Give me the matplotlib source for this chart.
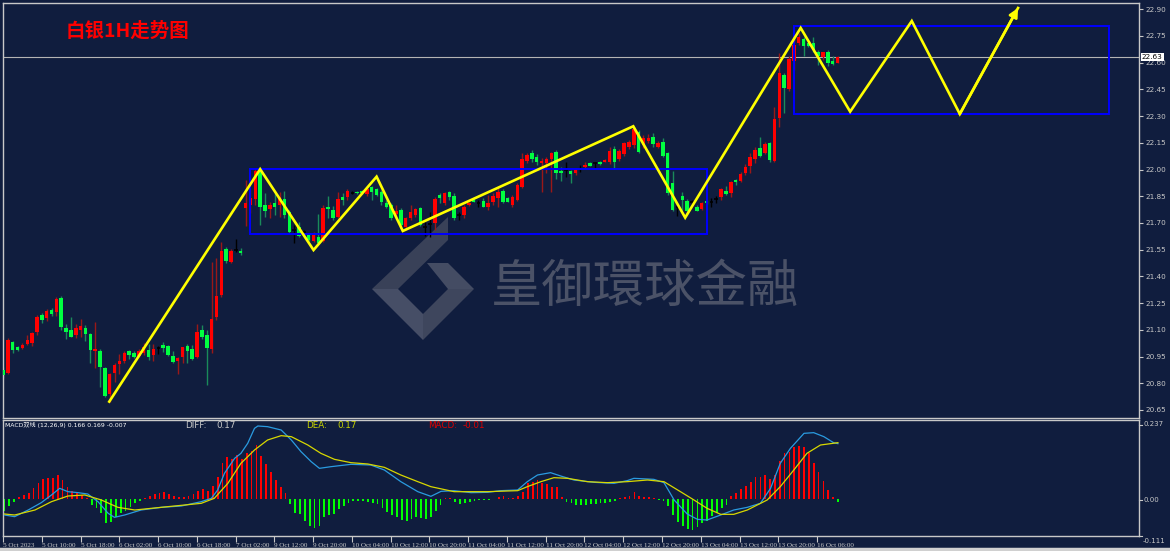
import matplotlib
matplotlib.use('Agg')
import matplotlib.pyplot as plt
from matplotlib.patches import Rectangle, Polygon
from matplotlib.transforms import blended_transform_factory

W, H = 1170, 551
BG = '#101d3e'
FG = '#c8c8c8'

opens = [
    20.875, 20.860, 21.032, 21.004, 20.998, 21.021, 21.028, 21.088, 21.183, 21.168,
    21.212, 21.202, 21.281, 21.110, 21.099, 21.071, 21.099, 21.110, 21.077, 20.981,
    20.983, 20.884, 20.740, 20.860, 20.908, 20.925, 20.981, 20.972, 20.953, 20.970,
    20.987, 20.959, 20.997, 21.015, 21.011, 20.953, 20.927, 20.946, 21.011, 20.993,
    20.949, 21.099, 21.071, 20.991, 21.172, 21.296, 21.554, 21.479, 21.551, 21.543,
    21.783, 21.801, 21.833, 22.002, 21.801, 21.777, 21.814, 21.801, 21.833, 21.763,
    21.662, 21.676, 21.650, 21.633, 21.601, 21.620, 21.601, 21.792, 21.773, 21.735,
    21.848, 21.844, 21.870, 21.873, 21.881, 21.861, 21.900, 21.889, 21.876, 21.814,
    21.801, 21.749, 21.773, 21.676, 21.730, 21.745, 21.783, 21.676, 21.695, 21.702,
    21.857, 21.811, 21.874, 21.853, 21.744, 21.745, 21.801, 21.829, 21.810, 21.825,
    21.792, 21.820, 21.839, 21.880, 21.839, 21.801, 21.829, 21.900, 22.050, 22.095,
    22.072, 22.039, 22.035, 22.058, 22.101, 21.992, 21.998, 21.992, 21.979, 22.002,
    22.013, 22.035, 22.037, 22.044, 22.044, 22.044, 22.114, 22.058, 22.087, 22.129,
    22.138, 22.213, 22.138, 22.162, 22.181, 22.125, 22.157, 22.095, 21.923, 21.788,
    21.853, 21.825, 21.820, 21.792, 21.777, 21.825, 21.820, 21.833, 21.844, 21.880,
    21.870, 21.942, 21.938, 21.979, 22.022, 22.059, 22.123, 22.091, 22.151, 22.050,
    22.291, 22.531, 22.451, 22.611, 22.709, 22.732, 22.712, 22.709, 22.662, 22.630,
    22.662, 22.611, 22.600]
closes = [
    20.847, 21.043, 20.987, 20.987, 21.015, 21.043, 21.082, 21.174, 21.155, 21.206,
    21.189, 21.272, 21.118, 21.088, 21.062, 21.110, 21.122, 21.077, 20.987, 20.994,
    20.893, 20.730, 20.852, 20.903, 20.925, 20.972, 20.959, 20.949, 20.983, 21.006,
    20.946, 20.994, 20.997, 20.998, 20.959, 20.921, 20.944, 21.002, 20.981, 20.937,
    21.090, 21.058, 21.000, 21.161, 21.292, 21.545, 21.488, 21.543, 21.551, 21.530,
    21.814, 21.842, 21.992, 21.788, 21.767, 21.801, 21.792, 21.848, 21.745, 21.651,
    21.662, 21.627, 21.650, 21.605, 21.633, 21.590, 21.783, 21.777, 21.730, 21.833,
    21.829, 21.881, 21.870, 21.870, 21.867, 21.889, 21.876, 21.857, 21.820, 21.788,
    21.726, 21.767, 21.689, 21.726, 21.763, 21.777, 21.689, 21.676, 21.695, 21.833,
    21.839, 21.867, 21.844, 21.726, 21.744, 21.792, 21.814, 21.820, 21.810, 21.792,
    21.814, 21.853, 21.876, 21.820, 21.820, 21.844, 21.913, 22.058, 22.082, 22.059,
    22.044, 22.050, 22.058, 22.095, 21.979, 21.979, 21.998, 21.974, 21.998, 22.002,
    22.026, 22.022, 22.037, 22.031, 22.054, 22.106, 22.044, 22.106, 22.148, 22.157,
    22.226, 22.101, 22.176, 22.176, 22.144, 22.148, 22.076, 21.870, 21.773, 21.788,
    21.830, 21.769, 21.820, 21.770, 21.814, 21.811, 21.820, 21.833, 21.889, 21.863,
    21.929, 21.929, 21.974, 22.016, 22.072, 22.110, 22.076, 22.144, 22.054, 22.282,
    22.541, 22.456, 22.619, 22.700, 22.743, 22.694, 22.694, 22.671, 22.638, 22.658,
    22.600, 22.591, 22.630]
highs = [
    20.893, 21.054, 21.037, 21.010, 21.026, 21.071, 21.088, 21.183, 21.193, 21.215,
    21.221, 21.286, 21.292, 21.133, 21.174, 21.133, 21.159, 21.126, 21.084, 21.144,
    20.994, 20.893, 20.858, 20.914, 20.964, 20.983, 20.987, 20.981, 20.994, 21.026,
    21.019, 21.021, 21.009, 21.032, 21.015, 20.983, 20.949, 21.006, 21.019, 21.015,
    21.133, 21.127, 21.099, 21.483, 21.502, 21.593, 21.567, 21.552, 21.609, 21.558,
    21.942, 21.889, 22.002, 22.007, 21.870, 21.820, 21.867, 21.876, 21.880, 21.773,
    21.689, 21.706, 21.661, 21.646, 21.651, 21.751, 21.801, 21.852, 21.796, 21.876,
    21.870, 21.889, 21.880, 21.877, 21.887, 21.900, 21.908, 21.895, 21.885, 21.829,
    21.811, 21.801, 21.783, 21.735, 21.801, 21.783, 21.790, 21.707, 21.763, 21.848,
    21.867, 21.876, 21.881, 21.867, 21.763, 21.801, 21.820, 21.835, 21.829, 21.839,
    21.857, 21.867, 21.895, 21.889, 21.845, 21.857, 21.923, 22.091, 22.095, 22.110,
    22.087, 22.063, 22.072, 22.101, 22.110, 22.015, 22.043, 21.998, 22.007, 22.026,
    22.044, 22.040, 22.043, 22.050, 22.060, 22.129, 22.132, 22.114, 22.157, 22.166,
    22.237, 22.222, 22.194, 22.200, 22.204, 22.160, 22.176, 22.101, 21.992, 21.800,
    21.876, 21.833, 21.829, 21.800, 21.820, 21.830, 21.839, 21.852, 21.895, 21.908,
    21.938, 21.945, 21.988, 22.030, 22.091, 22.129, 22.181, 22.157, 22.157, 22.350,
    22.653, 22.541, 22.638, 22.737, 22.765, 22.743, 22.718, 22.743, 22.671, 22.662,
    22.671, 22.638, 22.638]
lows = [
    20.828, 20.852, 20.970, 20.980, 20.993, 21.015, 21.009, 21.073, 21.140, 21.151,
    21.178, 21.178, 21.099, 21.050, 21.058, 21.053, 21.062, 21.039, 20.914, 20.886,
    20.777, 20.725, 20.697, 20.809, 20.852, 20.912, 20.935, 20.942, 20.946, 20.959,
    20.931, 20.927, 20.964, 20.977, 20.953, 20.912, 20.852, 20.912, 20.912, 20.931,
    20.940, 21.047, 20.790, 20.968, 21.155, 21.286, 21.474, 21.474, 21.539, 21.520,
    21.683, 21.754, 21.801, 21.689, 21.735, 21.730, 21.745, 21.732, 21.726, 21.646,
    21.589, 21.620, 21.638, 21.599, 21.595, 21.582, 21.595, 21.728, 21.717, 21.726,
    21.801, 21.829, 21.862, 21.865, 21.860, 21.853, 21.829, 21.850, 21.801, 21.783,
    21.717, 21.735, 21.683, 21.661, 21.717, 21.735, 21.685, 21.627, 21.620, 21.661,
    21.811, 21.801, 21.829, 21.717, 21.717, 21.726, 21.795, 21.815, 21.788, 21.788,
    21.773, 21.801, 21.792, 21.811, 21.815, 21.792, 21.825, 21.895, 22.035, 22.044,
    22.026, 21.876, 21.979, 21.876, 21.945, 21.937, 21.960, 21.923, 21.970, 21.988,
    22.007, 22.018, 22.002, 22.026, 22.040, 22.031, 22.002, 22.050, 22.076, 22.114,
    22.119, 22.091, 22.119, 22.148, 22.129, 22.120, 22.072, 21.857, 21.769, 21.739,
    21.773, 21.763, 21.792, 21.765, 21.773, 21.805, 21.792, 21.814, 21.829, 21.857,
    21.844, 21.913, 21.929, 21.970, 21.979, 22.035, 22.069, 22.087, 22.044, 22.044,
    22.237, 22.319, 22.443, 22.559, 22.700, 22.638, 22.690, 22.662, 22.587, 22.615,
    22.582, 22.587, 22.597]

macd_hist = [
    -0.035, -0.020, -0.008, 0.005, 0.012, 0.019, 0.032, 0.047, 0.059, 0.064,
    0.064, 0.072, 0.057, 0.037, 0.025, 0.017, 0.012, 0.004, -0.018, -0.028,
    -0.043, -0.071, -0.068, -0.053, -0.043, -0.035, -0.025, -0.011, -0.005, 0.004,
    0.009, 0.015, 0.019, 0.022, 0.015, 0.009, 0.005, 0.007, 0.009, 0.015,
    0.025, 0.029, 0.025, 0.039, 0.065, 0.109, 0.125, 0.119, 0.132, 0.119,
    0.139, 0.145, 0.162, 0.129, 0.105, 0.082, 0.057, 0.037, 0.019, -0.015,
    -0.041, -0.045, -0.065, -0.081, -0.088, -0.081, -0.053, -0.048, -0.045, -0.031,
    -0.021, -0.011, -0.005, -0.005, -0.006, -0.008, -0.011, -0.015, -0.028, -0.038,
    -0.048, -0.053, -0.063, -0.065, -0.061, -0.053, -0.058, -0.061, -0.055, -0.035,
    -0.018, 0.002, 0.002, -0.008, -0.015, -0.013, -0.008, -0.005, -0.004, -0.003,
    -0.004, 0.001, 0.007, 0.009, 0.004, 0.002, 0.009, 0.022, 0.047, 0.052,
    0.057, 0.047, 0.045, 0.037, 0.035, 0.005, -0.008, -0.013, -0.018, -0.018,
    -0.018, -0.015, -0.015, -0.013, -0.011, -0.008, -0.005, 0.002, 0.005, 0.009,
    0.022, 0.009, 0.007, 0.005, 0.002, -0.003, -0.005, -0.021, -0.048, -0.068,
    -0.081, -0.091, -0.093, -0.085, -0.073, -0.065, -0.051, -0.041, -0.028, -0.018,
    0.009, 0.019, 0.029, 0.039, 0.052, 0.065, 0.065, 0.072, 0.059, 0.072,
    0.115, 0.137, 0.142, 0.157, 0.159, 0.157, 0.137, 0.107, 0.082, 0.054,
    0.027, 0.005, -0.008]

diff_x = [0, 2.1, 4.9, 7.6, 9.7, 11.4, 13.1, 15.2, 17.2, 19.3, 21.4, 22.7, 24.8,
          28.2, 32.4, 36.5, 40.6, 42.7, 44.0, 45.4, 47.5, 48.8, 50.2, 51.6, 52.3,
          54.3, 57.1, 59.2, 61.2, 63.3, 65.0, 67.4, 71.5, 75.6, 78.4, 81.8, 85.3,
          88.0, 90.1, 92.8, 96.3, 99.7, 102.4, 105.9, 107.9, 110.0, 112.7, 114.8,
          117.5, 121.7, 125.8, 128.5, 129.9, 134.0, 136.1, 138.2, 140.9, 143.0,
          145.0, 147.8, 150.5, 153.3, 156.0, 158.1, 160.1, 162.2, 165.0, 167.0,
          169.1, 171.1, 172.0]
diff_y = [-0.048, -0.053, -0.033, -0.011, 0.012, 0.032, 0.022, 0.019, 0.015, -0.008,
          -0.043, -0.055, -0.048, -0.033, -0.025, -0.021, -0.008, 0.002, 0.027, 0.077,
          0.122, 0.137, 0.167, 0.212, 0.219, 0.217, 0.207, 0.177, 0.142, 0.112,
          0.092, 0.097, 0.104, 0.102, 0.087, 0.052, 0.022, 0.008, 0.023, 0.025,
          0.019, 0.020, 0.025, 0.027, 0.052, 0.072, 0.079, 0.069, 0.057, 0.050,
          0.047, 0.055, 0.062, 0.059, 0.049, -0.003, -0.045, -0.061, -0.063, -0.048,
          -0.033, -0.025, -0.013, 0.032, 0.107, 0.152, 0.197, 0.199, 0.187, 0.169,
          0.166]
dea_x = [0, 2.1, 6.3, 9.7, 13.1, 16.6, 20.0, 23.4, 26.9, 30.3, 33.7, 37.2, 40.6,
         43.3, 46.1, 48.8, 51.6, 54.3, 57.1, 59.2, 62.6, 65.3, 68.1, 71.5, 75.0,
         78.4, 81.8, 85.3, 88.0, 92.8, 99.7, 105.9, 107.9, 110.7, 113.4, 116.2,
         120.3, 124.4, 128.5, 132.7, 136.1, 139.5, 142.3, 145.0, 147.8, 150.5,
         153.3, 157.4, 160.1, 162.9, 165.6, 168.4, 172.0]
dea_y = [-0.045, -0.048, -0.033, -0.008, 0.009, 0.012, -0.003, -0.025, -0.033, -0.028,
         -0.023, -0.018, -0.013, 0.002, 0.047, 0.107, 0.147, 0.177, 0.190, 0.187,
         0.162, 0.137, 0.119, 0.109, 0.105, 0.095, 0.072, 0.052, 0.037, 0.022,
         0.022, 0.025, 0.037, 0.052, 0.064, 0.062, 0.052, 0.049, 0.052, 0.057,
         0.052, 0.022, -0.003, -0.028, -0.046, -0.046, -0.033, -0.003, 0.037, 0.087,
         0.137, 0.162, 0.169]

time_ticks = [0, 8, 16, 24, 32, 40, 48, 56, 64, 72, 80, 88, 96, 104, 112, 120,
              128, 136, 144, 152, 160, 168]
time_labels = ['5 Oct 2023', '5 Oct 10:00', '5 Oct 18:00', '6 Oct 02:00', '6 Oct 10:00',
               '6 Oct 18:00', '7 Oct 02:00', '9 Oct 12:00', '9 Oct 20:00', '10 Oct 04:00',
               '10 Oct 12:00', '10 Oct 20:00', '11 Oct 04:00', '11 Oct 12:00',
               '11 Oct 20:00', '12 Oct 04:00', '12 Oct 12:00', '12 Oct 20:00',
               '13 Oct 04:00', '13 Oct 12:00', '13 Oct 20:00', '16 Oct 06:00']
price_ticks = [20.65, 20.80, 20.95, 21.10, 21.25, 21.40, 21.55, 21.70, 21.85,
               22.00, 22.15, 22.30, 22.45, 22.60, 22.75, 22.90]
last_price = 22.63

zig_x = [21.9, 53.0, 64.0, 77.0, 82.4, 129.9, 140.6, 164.4, 174.6, 187.3, 197.2, 209.2]
zig_y = [20.697, 22.002, 21.548, 21.960, 21.655, 22.243, 21.730, 22.795, 22.325,
         22.834, 22.312, 22.907]

box1 = [50.9, 145.0, 21.638, 22.002]   # x0, x1, y0, y1
box2 = [163.0, 228.0, 22.310, 22.808]

title = '白银1H走势图'
watermark = '皇御環球金融'

fig = plt.figure(figsize=(W / 100, H / 100), dpi=100, facecolor=BG)

def fx(px):
    return px / W

def fy(py):
    return 1 - py / H

ax = fig.add_axes([fx(3), fy(418), (1139 - 3) / W, (418 - 3) / H], facecolor=BG)
axm = fig.add_axes([fx(3), fy(536), (1139 - 3) / W, (536 - 420) / H], facecolor=BG)

x_max = (1139 - 3) / 4.852
for a in (ax, axm):
    a.set_xlim(0, x_max)
    for s in a.spines.values():
        s.set_color(FG)
        s.set_linewidth(1.0)

ax.set_ylim(20.605, 22.935)
axm.set_ylim(-0.111, 0.237)

# watermark (behind the candles)
def poly(pts, col, z):
    fig.add_artist(Polygon([(fx(a), fy(b)) for a, b in pts], closed=True,
                           transform=fig.transFigure, facecolor=col,
                           edgecolor='none', zorder=z))

poly([(372, 289), (448, 217), (448, 240), (398, 289)], '#394158', 0.5)
poly([(372, 289), (398, 289), (423, 314), (423, 340)], '#464e66', 0.5)
poly([(423, 314), (448, 289), (474, 289), (423, 340)], '#3e465d', 0.5)
poly([(427, 263), (448, 263), (474, 289), (448, 289)], '#444c63', 0.5)
fig.text(fx(491), fy(287), watermark, fontsize=37, color='#4b5267',
         family=['Noto Sans CJK TC'], ha='left', va='center', zorder=0.7)
ax.set_zorder(1)
ax.patch.set_alpha(0)

# candles
bw = 0.72
for i, (o, h, l, c) in enumerate(zip(opens, highs, lows, closes)):
    if c > o + 0.002:
        body, wick = '#ff0000', '#9a1818'
    elif c < o - 0.002:
        body, wick = '#00ff40', '#1a8a5a'
    else:
        body, wick = '#000000', '#000000'
    ax.vlines(i, l, h, color=wick, lw=1.0, zorder=2)
    if body == '#000000':
        ax.hlines(o, i - bw / 2, i + bw / 2, color=body, lw=1.2, zorder=3)
    else:
        ax.add_patch(Rectangle((i - bw / 2, min(o, c)), bw, abs(c - o),
                               facecolor=body, edgecolor='none', zorder=3))

ax.axhline(last_price, color='#b4b4b4', lw=0.8, zorder=1.5)

for b in (box1, box2):
    ax.add_patch(Rectangle((b[0], b[2]), b[1] - b[0], b[3] - b[2], fill=False,
                           edgecolor='#0000ff', lw=1.4, zorder=4))

ax.plot(zig_x, zig_y, color='#ffff00', lw=1.9, zorder=5, solid_joinstyle='miter')
ax.annotate('', xy=(zig_x[-1], zig_y[-1]), xytext=(zig_x[-2], zig_y[-2]),
            arrowprops=dict(arrowstyle='-|>', color='#ffff00', lw=1.9,
                            mutation_scale=13, shrinkA=0, shrinkB=0), zorder=5)

ax.yaxis.tick_right()
ax.set_yticks(price_ticks)
ax.set_yticklabels(['%.2f' % p for p in price_ticks])
ax.tick_params(axis='y', colors=FG, labelsize=5.2, length=3, width=0.8, pad=2)
ax.set_xticks([])

trans = blended_transform_factory(ax.transAxes, ax.transData)
ax.text(1.0025, last_price, '%.2f' % last_price, transform=trans, fontsize=5.2,
        color='#000000', ha='left', va='center',
        bbox=dict(boxstyle='square,pad=0.15', facecolor='white', edgecolor='none'))

fig.text(fx(66), fy(31), title, fontsize=14, color='#ff0000', fontweight='bold',
         family=['Noto Sans CJK SC'], ha='left', va='center')

# MACD panel
cols = ['#ff0000' if v > 0 else '#00ff00' for v in macd_hist]
axm.bar(range(len(macd_hist)), macd_hist, width=0.36, color=cols, zorder=2)
axm.plot(diff_x, diff_y, color='#2a9be0', lw=0.9, zorder=3)
axm.plot(dea_x, dea_y, color='#d8d800', lw=0.9, zorder=3)

axm.set_yticks([])
axm.set_xticks([t - 0.3 for t in time_ticks])
axm.set_xticklabels(time_labels)
for lab in axm.get_xticklabels():
    lab.set_ha('left')
    lab.set_family(['Liberation Serif', 'DejaVu Serif'])
axm.tick_params(axis='x', colors=FG, labelsize=5.1, length=4, width=0.8, pad=1)

for val, py in ((0.237, 424.5), (0.0, 499.5), (-0.111, 541)):
    fig.text(fx(1143), fy(py), ('%.3f' % val) if val != 0 else '0.00', fontsize=5.0,
             color=FG, ha='left', va='center')
    fig.add_artist(plt.Line2D([fx(1139), fx(1142)], [fy(py if py < 536 else 536)] * 2,
                              color=FG, lw=0.8, transform=fig.transFigure))

fig.text(fx(5), fy(425), 'MACD双线 (12,26,9) 0.166 0.169 -0.007', fontsize=4.4,
         color='#ffffff', family=['DejaVu Sans', 'Noto Sans CJK SC'], ha='left', va='center')
hdr = [(185, 'DIFF:', '#c8c8c8'), (216, '0.17', '#c8c8c8'),
       (306, 'DEA:', '#c8d400'), (337, '0.17', '#c8d400'),
       (428, 'MACD:', '#e00000'), (463, '-0.01', '#e00000')]
for px, s, c in hdr:
    fig.text(fx(px), fy(426), s, fontsize=6.3, color=c, ha='left', va='center')

# window border at the bottom
fig.add_artist(plt.Line2D([0, 1], [fy(548.5)] * 2, color='#d0d0d0', lw=2.5,
                          transform=fig.transFigure))

fig.savefig('out.png', dpi=100, facecolor=BG)
